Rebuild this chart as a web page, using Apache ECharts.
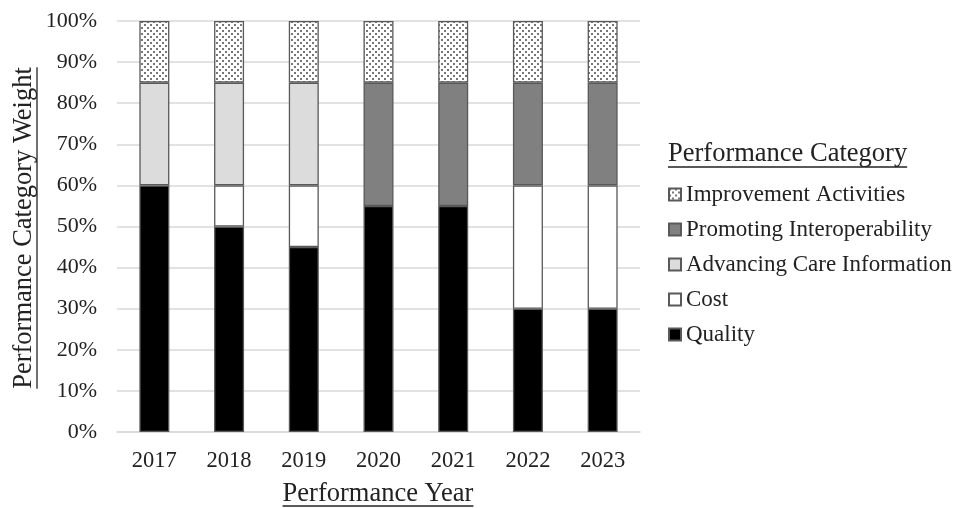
<!DOCTYPE html>
<html>
<head>
<meta charset="utf-8">
<script src="https://cdn.jsdelivr.net/npm/echarts@6/dist/echarts.min.js"></script>
<style>
  html, body { margin: 0; padding: 0; background: #fff; }
  #chart { width: 956px; height: 508px; }
</style>
</head>
<body>
<div id="chart"></div>
<script>
const years = ['2017', '2018', '2019', '2020', '2021', '2022', '2023']
const quality = [60, 50, 45, 55, 55, 30, 30]
const cost = [null, 10, 15, null, null, 30, 30]
const advancingCare = [25, 25, 25, null, null, null, null]
const promoting = [null, null, null, 30, 30, 25, 25]
const improvement = [15, 15, 15, 15, 15, 15, 15]

const FONT = '"Liberation Serif", "Times New Roman", serif'

// dotted fill for Improvement Activities
const makeDots = () => {
  const c = document.createElement('canvas')
  c.width = 6
  c.height = 6
  const ctx = c.getContext('2d')
  ctx.fillStyle = '#fff'
  ctx.fillRect(0, 0, 6, 6)
  ctx.fillStyle = '#777'
  ctx.fillRect(0, 0, 2, 2)
  ctx.fillRect(3, 3, 2, 2)
  return c
}
const dots = { image: makeDots(), repeat: 'repeat' }

const textWidth = (txt, size) => {
  const ctx = document.createElement('canvas').getContext('2d')
  ctx.font = size + 'px ' + FONT
  return ctx.measureText(txt).width
}

const border = { borderColor: '#595959', borderWidth: 1.3 }
const mk = (name, data, color) => ({
  name,
  type: 'bar',
  stack: 'w',
  data,
  barWidth: 30,
  itemStyle: Object.assign({ color }, border)
})

const TS = 26.5
const yTitle = 'Performance Category Weight'
const xTitle = 'Performance Year'
const lTitle = 'Performance Category'
const yW = textWidth(yTitle, TS)
const xW = textWidth(xTitle, TS)
const lW = textWidth(lTitle, TS)

const chart = echarts.init(document.getElementById('chart'))
chart.setOption({
  animation: false,
  textStyle: { fontFamily: FONT },
  grid: { left: 117, right: 316, top: 21, bottom: 76 },
  xAxis: {
    type: 'category',
    data: years,
    axisLine: { lineStyle: { color: '#d9d9d9', width: 1.5 } },
    axisTick: { show: false },
    axisLabel: { color: '#222', fontSize: 22.5, fontFamily: FONT, margin: 18 }
  },
  yAxis: {
    type: 'value',
    min: 0,
    max: 100,
    interval: 10,
    axisLine: { show: false },
    axisTick: { show: false },
    splitLine: { lineStyle: { color: '#d9d9d9', width: 1.5 } },
    axisLabel: { color: '#222', fontSize: 22, fontFamily: FONT, margin: 20, formatter: '{value}%' }
  },
  legend: {
    orient: 'vertical',
    left: 668,
    top: 183,
    padding: 0,
    icon: 'rect',
    itemWidth: 12,
    itemHeight: 12,
    itemGap: 12,
    textStyle: { color: '#222', fontSize: 23, fontFamily: FONT },
    data: ['Improvement Activities', 'Promoting Interoperability', 'Advancing Care Information', 'Cost', 'Quality']
  },
  graphic: [
    {
      type: 'text',
      x: 24,
      y: 228,
      rotation: Math.PI / 2,
      style: { text: yTitle, font: TS + 'px ' + FONT, fill: '#222', align: 'center', verticalAlign: 'middle' }
    },
    {
      type: 'line',
      shape: { x1: 37, y1: 228 - yW / 2, x2: 37, y2: 228 + yW / 2 },
      style: { stroke: '#222', lineWidth: 1.3 }
    },
    {
      type: 'text',
      x: 378,
      y: 494,
      style: { text: xTitle, font: TS + 'px ' + FONT, fill: '#222', align: 'center', verticalAlign: 'middle' }
    },
    {
      type: 'line',
      shape: { x1: 378 - xW / 2, y1: 506, x2: 378 + xW / 2, y2: 506 },
      style: { stroke: '#222', lineWidth: 1.3 }
    },
    {
      type: 'text',
      x: 668,
      y: 154,
      style: { text: lTitle, font: TS + 'px ' + FONT, fill: '#222', align: 'left', verticalAlign: 'middle' }
    },
    {
      type: 'line',
      shape: { x1: 668, y1: 167, x2: 668 + lW, y2: 167 },
      style: { stroke: '#222', lineWidth: 1.3 }
    }
  ],
  series: [
    mk('Quality', quality, '#000000'),
    mk('Cost', cost, '#ffffff'),
    mk('Advancing Care Information', advancingCare, '#dcdcdc'),
    mk('Promoting Interoperability', promoting, '#808080'),
    mk('Improvement Activities', improvement, dots)
  ]
})
</script>
</body>
</html>
